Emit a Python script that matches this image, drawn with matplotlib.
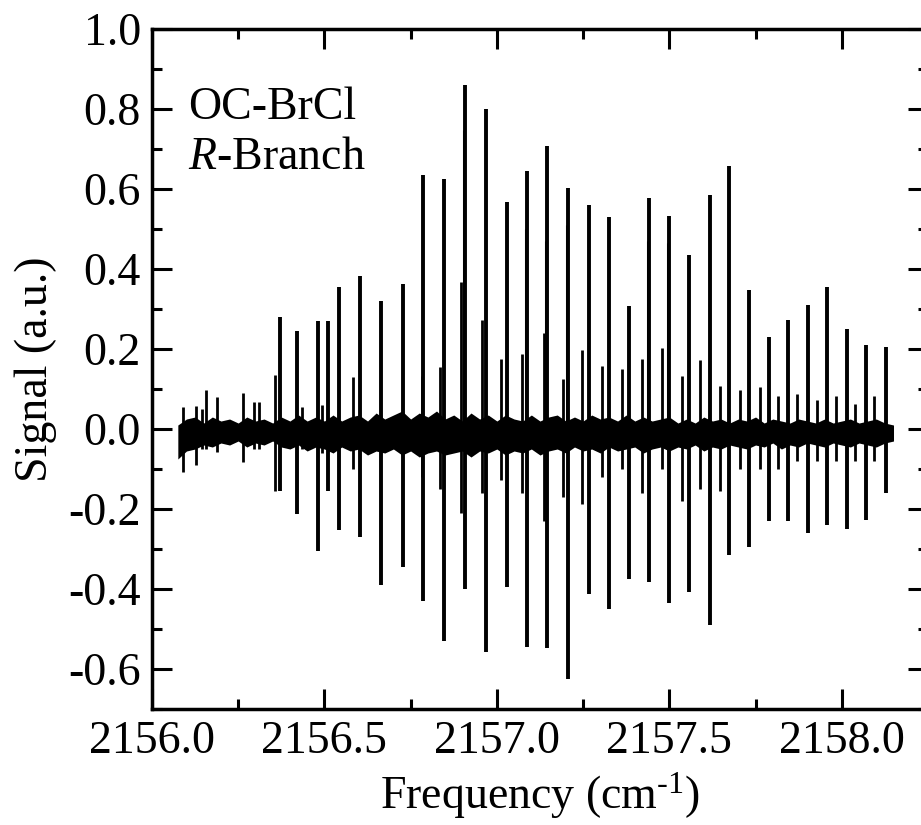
import numpy as np
import matplotlib
matplotlib.use("Agg")
import matplotlib.pyplot as plt

plt.rcParams['font.family'] = ['Liberation Serif', 'DejaVu Serif']
plt.rcParams['mathtext.fontset'] = 'custom'
plt.rcParams['mathtext.rm'] = 'Liberation Serif'
plt.rcParams['mathtext.it'] = 'Liberation Serif:italic'
plt.rcParams['axes.unicode_minus'] = False

# strong R-branch lines: position (cm-1), positive and negative lobes
main_freq = [2156.3714, 2156.4193, 2156.4826, 2156.5107, 2156.5435, 2156.6036,
             2156.6645, 2156.7284, 2156.7864, 2156.8474, 2156.9083, 2156.9678,
             2157.0281, 2157.0882, 2157.1463, 2157.2072, 2157.2661, 2157.3262,
             2157.3842, 2157.4423, 2157.5003, 2157.5583, 2157.6172, 2157.6730,
             2157.7304, 2157.7884, 2157.8447, 2157.9016, 2157.9579, 2158.0139,
             2158.0699, 2158.1271]
main_up = [0.279, 0.245, 0.27, 0.27, 0.354, 0.382, 0.32, 0.362, 0.635, 0.624,
           0.86, 0.80, 0.568, 0.646, 0.7075, 0.603, 0.56, 0.53, 0.3075, 0.577,
           0.532, 0.434, 0.585, 0.6575, 0.3475, 0.229, 0.2725, 0.31, 0.354,
           0.249, 0.21, 0.206]
main_down = [-0.154, -0.213, -0.304, -0.154, -0.2525, -0.27, -0.39, -0.346,
             -0.43, -0.53, -0.40, -0.557, -0.394, -0.544, -0.548, -0.625,
             -0.4125, -0.449, -0.376, -0.382, -0.436, -0.408, -0.49, -0.316,
             -0.294, -0.229, -0.229, -0.259, -0.24, -0.251, -0.2275, -0.161]

# weaker lines (second series and noise spikes)
weak_freq = [2156.0891, 2156.1277, 2156.1442, 2156.1567, 2156.1895, 2156.2649,
             2156.2960, 2156.3114, 2156.3569, 2156.4344, 2156.4925, 2156.5842,
             2156.7826, 2156.8358, 2156.8967, 2156.9568, 2157.0119, 2157.0728,
             2157.1355, 2157.1918, 2157.2470, 2157.3050, 2157.3630, 2157.4211,
             2157.4791, 2157.5371, 2157.5902, 2157.6483, 2157.7063, 2157.7623,
             2157.8157, 2157.8708, 2157.9269, 2157.9820, 2158.0380, 2158.0931]
weak_up = [0.056, 0.058, 0.05, 0.0975, 0.081, 0.089, 0.067, 0.067, 0.134, 0.056,
           0.06, 0.131, 0.133, 0.154, 0.368, 0.2725, 0.175, 0.187, 0.239, 0.125,
           0.1975, 0.1575, 0.151, 0.174, 0.203, 0.1325, 0.1725, 0.1075, 0.0975,
           0.106, 0.0825, 0.0875, 0.0725, 0.083, 0.0625, 0.083]
weak_down = [-0.107, -0.09, -0.05, -0.05, -0.057, -0.082, -0.05, -0.05, -0.154,
             -0.05, -0.06, -0.10, -0.12, -0.15, -0.21, -0.16, -0.1275, -0.159,
             -0.229, -0.169, -0.188, -0.119, -0.10, -0.159, -0.10, -0.18, -0.15,
             -0.154, -0.10, -0.10, -0.10, -0.08, -0.08, -0.08, -0.08, -0.08]

# shoulders beside some strong lines
shoulder_freq = [2156.9045, 2157.0844, 2157.1425, 2157.2034, 2157.4385, 2157.4965]
shoulder_up = [0.7475, 0.50, 0.47, 0.51, 0.47, 0.466]

# baseline noise band, read every 0.025 cm-1 from 2156.075 to 2158.15
band_upper = [0.01, 0.025, 0.03, 0.015, 0.03, 0.02, 0.025, 0.015, 0.03, 0.02,
              0.025, 0.015, 0.03, 0.02, 0.035, 0.02, 0.03, 0.02, 0.035, 0.02,
              0.03, 0.035, 0.02, 0.04, 0.025, 0.035, 0.045, 0.025, 0.04, 0.03,
              0.045, 0.025, 0.035, 0.02, 0.04, 0.025, 0.035, 0.02, 0.035, 0.025,
              0.02, 0.035, 0.02, 0.03, 0.035, 0.02, 0.03, 0.02, 0.035, 0.025,
              0.03, 0.02, 0.035, 0.02, 0.03, 0.02, 0.025, 0.03, 0.015, 0.025,
              0.015, 0.03, 0.02, 0.025, 0.015, 0.025, 0.02, 0.03, 0.015, 0.025,
              0.02, 0.015, 0.025, 0.02, 0.015, 0.025, 0.015, 0.02, 0.025, 0.015,
              0.02, 0.025, 0.015, 0.01]
band_lower = [-0.075, -0.055, -0.05, -0.04, -0.045, -0.035, -0.04, -0.03, -0.045,
              -0.035, -0.04, -0.03, -0.045, -0.05, -0.04, -0.055, -0.045, -0.05,
              -0.06, -0.045, -0.055, -0.05, -0.065, -0.055, -0.06, -0.05, -0.065,
              -0.055, -0.07, -0.06, -0.055, -0.065, -0.06, -0.055, -0.07, -0.055,
              -0.06, -0.05, -0.065, -0.055, -0.06, -0.05, -0.065, -0.055, -0.05,
              -0.06, -0.045, -0.055, -0.05, -0.06, -0.045, -0.055, -0.05, -0.045,
              -0.06, -0.05, -0.045, -0.055, -0.045, -0.05, -0.04, -0.055, -0.045,
              -0.05, -0.04, -0.045, -0.05, -0.04, -0.045, -0.035, -0.05, -0.04,
              -0.045, -0.035, -0.04, -0.045, -0.035, -0.04, -0.045, -0.035,
              -0.04, -0.045, -0.035, -0.03]
band_freq = np.linspace(2156.075, 2158.15, len(band_upper))

fig = plt.figure(figsize=(9.21, 8.25), dpi=100)
ax = fig.add_axes([0.1650, 0.1406, 0.8426, 0.8242])

ax.fill_between(band_freq, band_lower, band_upper, color='black', lw=0)
ax.vlines(weak_freq, -0.015, weak_up, color='black', lw=2.0)
ax.vlines(weak_freq, weak_down, -0.015, color='black', lw=2.0)
ax.vlines(shoulder_freq, -0.015, shoulder_up, color='black', lw=2.2)
ax.vlines(main_freq, -0.015, main_up, color='black', lw=2.8)
ax.vlines(main_freq, main_down, -0.015, color='black', lw=2.8)

ax.set_xlim(2156.0, 2158.25)
ax.set_ylim(-0.7, 1.0)
ax.set_xticks(np.arange(2156.0, 2158.01, 0.5))
ax.set_xticks(np.arange(2156.0, 2158.26, 0.25), minor=True)
ax.set_yticks(np.arange(-0.6, 1.01, 0.2))
ax.set_yticks(np.arange(-0.7, 1.01, 0.1), minor=True)
ax.set_xticklabels([f"{v:.1f}" for v in np.arange(2156.0, 2158.01, 0.5)])
ax.set_yticklabels([f"{v:.1f}" for v in np.arange(-0.6, 1.01, 0.2)])

ax.tick_params(which='both', direction='in', top=True, right=True,
               labelsize=33, width=2.2, pad=8)
ax.tick_params(which='major', length=14.5)
ax.tick_params(which='minor', length=7)
for s in ax.spines.values():
    s.set_linewidth(2.5)

ax.set_xlabel(r"Frequency (cm$^{\text{-1}}$)", fontsize=33, labelpad=6)
ax.set_ylabel("Signal (a.u.)", fontsize=33, labelpad=8)

ax.text(0.046, 0.915, "OC-BrCl", transform=ax.transAxes, fontsize=33, va='top')
ax.text(0.046, 0.842, r"$\mathit{R}$-Branch", transform=ax.transAxes,
        fontsize=33, va='top')

fig.savefig("out.png", dpi=100)
